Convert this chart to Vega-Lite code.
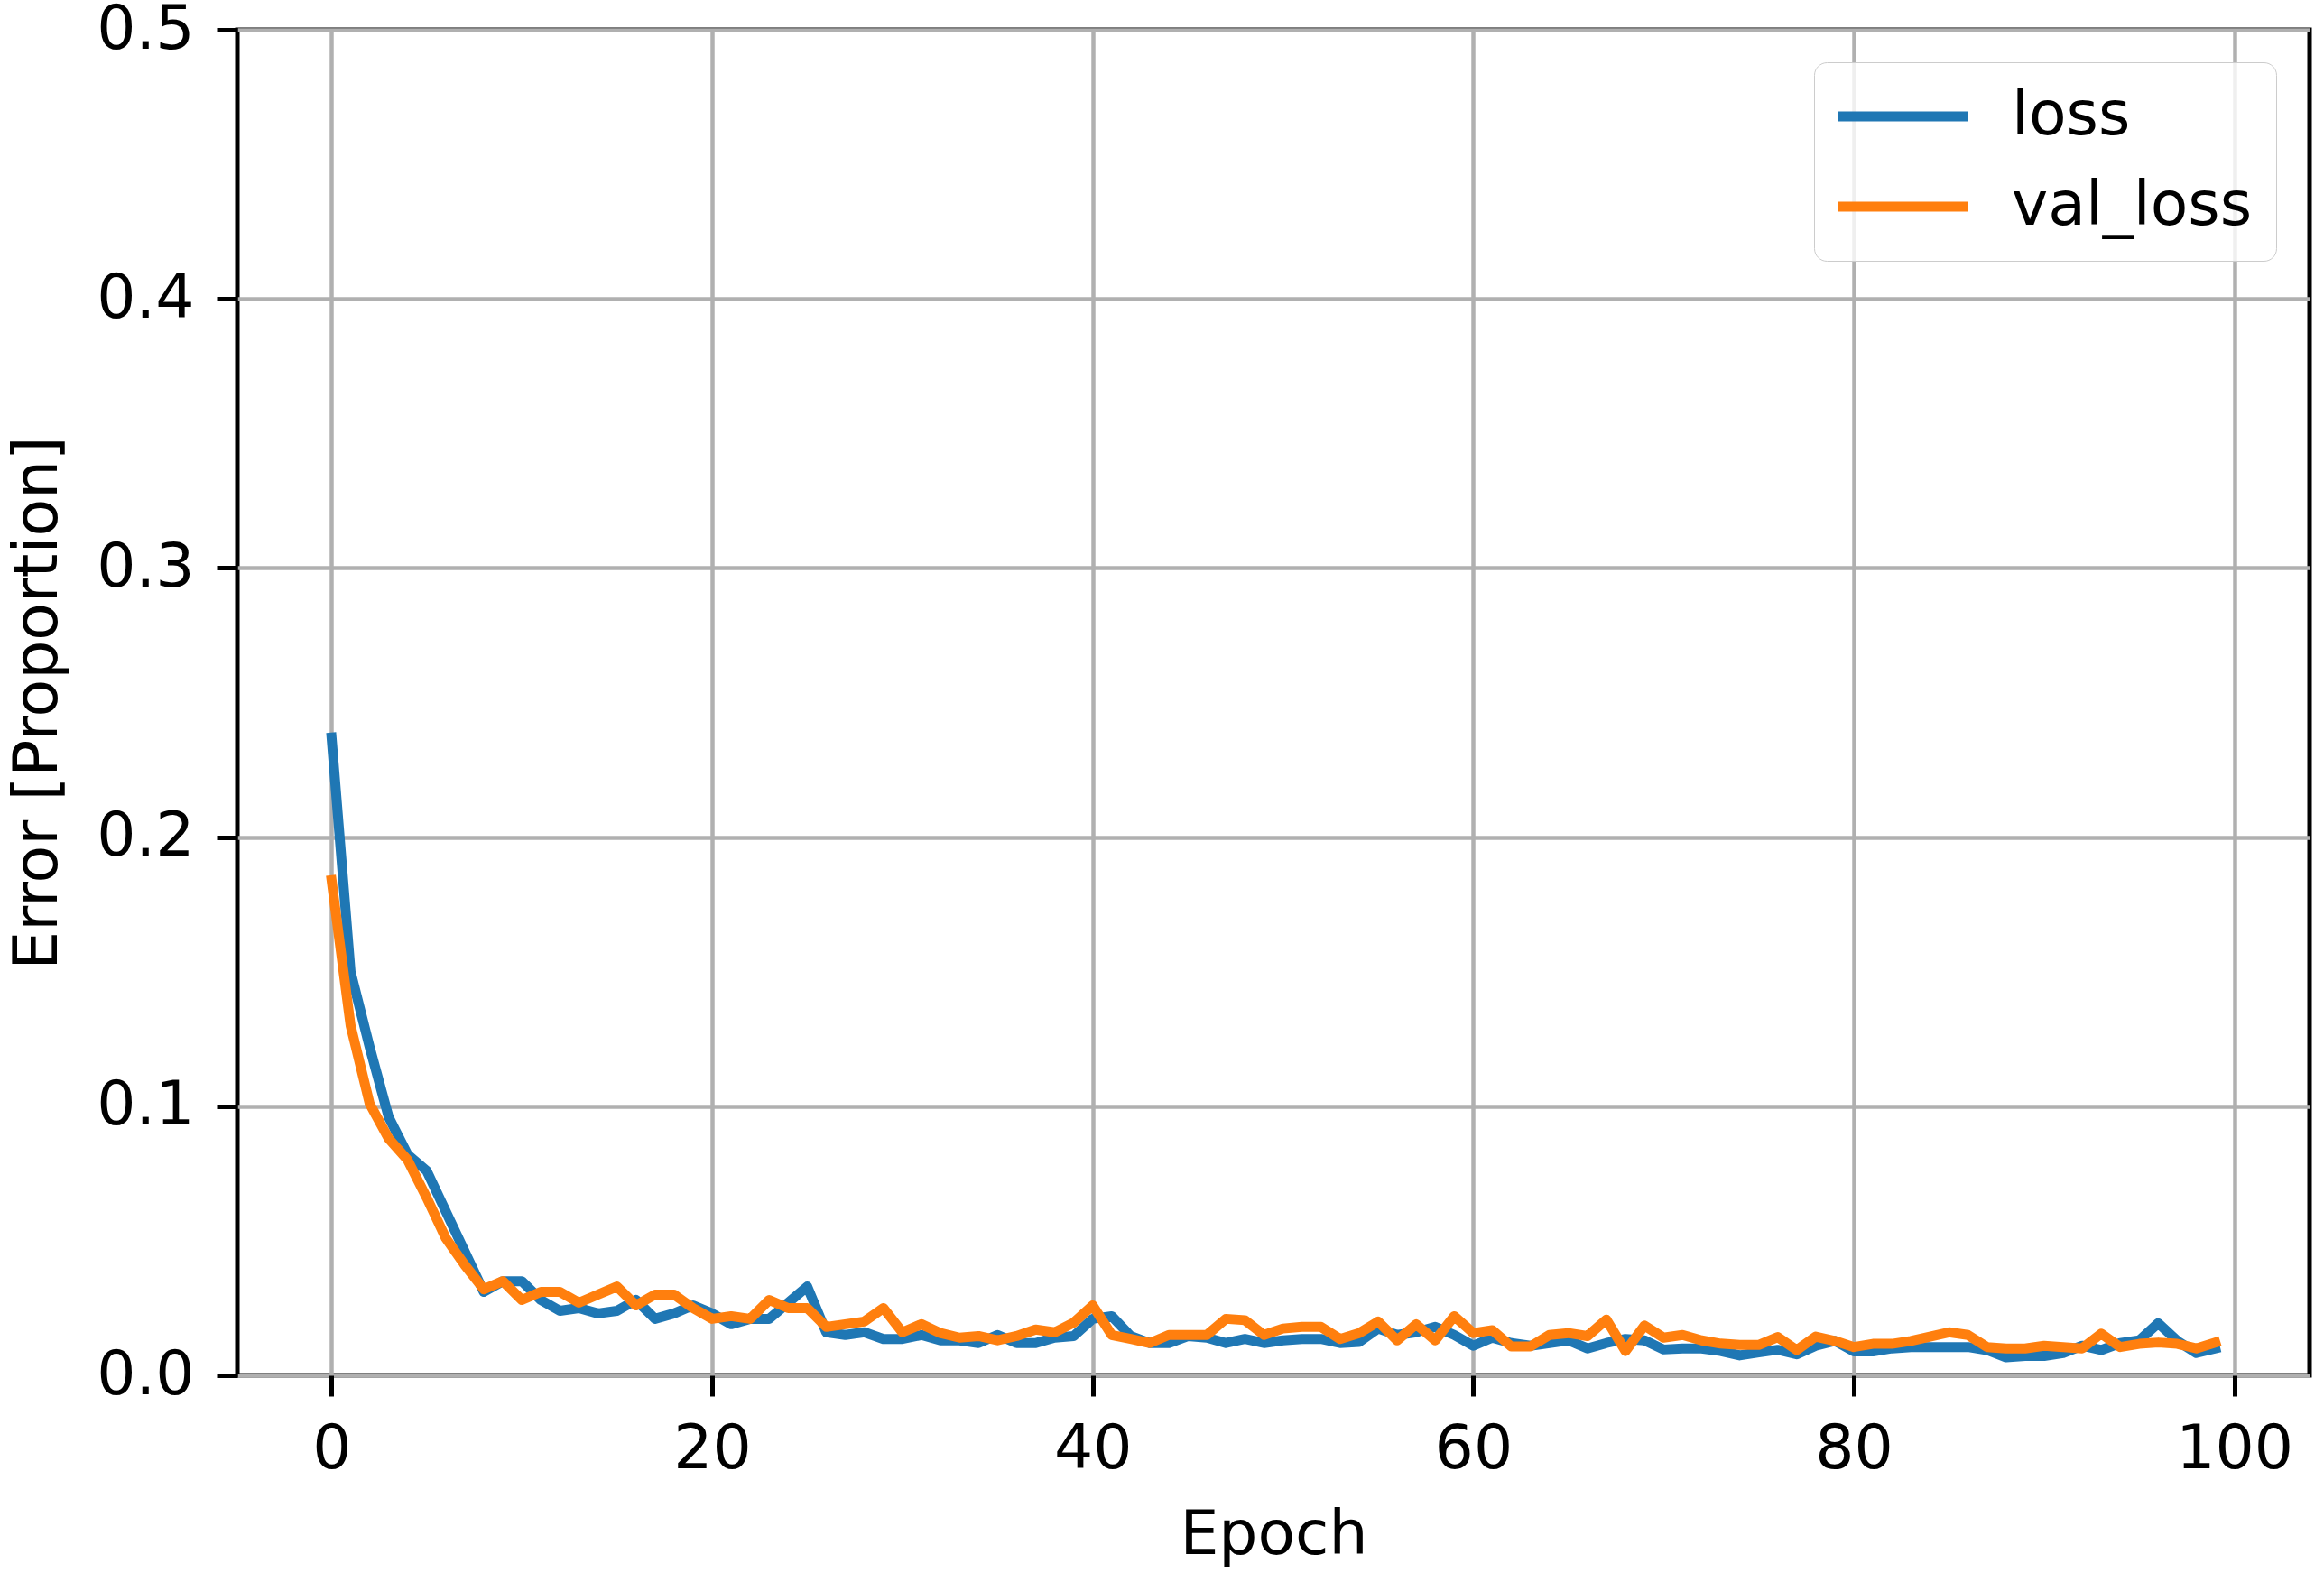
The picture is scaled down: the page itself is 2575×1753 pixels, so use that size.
{
  "$schema": "https://vega.github.io/schema/vega-lite/v6.json",
  "width": 2296,
  "height": 1491,
  "autosize": {"type": "none"},
  "padding": {"left": 263, "top": 33, "right": 16, "bottom": 229},
  "background": "white",
  "config": {
    "view": {"stroke": "black", "strokeWidth": 5},
    "font": "DejaVu Sans",
    "axis": {
      "domain": false,
      "tickColor": "black",
      "tickWidth": 5,
      "tickSize": 23,
      "labelFontSize": 68,
      "labelColor": "black",
      "labelFont": "DejaVu Sans",
      "gridColor": "#b0b0b0",
      "gridWidth": 4.5,
      "gridOpacity": 1,
      "titleFontSize": 68,
      "titleFontWeight": "normal",
      "titleColor": "black",
      "titleFont": "DejaVu Sans"
    }
  },
  "data": {
    "values": [
      {"epoch": 0, "loss": 0.237, "val_loss": 0.184},
      {"epoch": 1, "loss": 0.150, "val_loss": 0.130},
      {"epoch": 2, "loss": 0.122, "val_loss": 0.101},
      {"epoch": 3, "loss": 0.096, "val_loss": 0.088},
      {"epoch": 4, "loss": 0.082, "val_loss": 0.080},
      {"epoch": 5, "loss": 0.076, "val_loss": 0.066},
      {"epoch": 6, "loss": 0.061, "val_loss": 0.051},
      {"epoch": 7, "loss": 0.046, "val_loss": 0.041},
      {"epoch": 8, "loss": 0.031, "val_loss": 0.032},
      {"epoch": 9, "loss": 0.035, "val_loss": 0.035},
      {"epoch": 10, "loss": 0.035, "val_loss": 0.028},
      {"epoch": 11, "loss": 0.028, "val_loss": 0.031},
      {"epoch": 12, "loss": 0.024, "val_loss": 0.031},
      {"epoch": 13, "loss": 0.025, "val_loss": 0.027},
      {"epoch": 14, "loss": 0.023, "val_loss": 0.030},
      {"epoch": 15, "loss": 0.024, "val_loss": 0.033},
      {"epoch": 16, "loss": 0.028, "val_loss": 0.026},
      {"epoch": 17, "loss": 0.021, "val_loss": 0.030},
      {"epoch": 18, "loss": 0.023, "val_loss": 0.030},
      {"epoch": 19, "loss": 0.026, "val_loss": 0.025},
      {"epoch": 20, "loss": 0.023, "val_loss": 0.021},
      {"epoch": 21, "loss": 0.019, "val_loss": 0.022},
      {"epoch": 22, "loss": 0.021, "val_loss": 0.021},
      {"epoch": 23, "loss": 0.021, "val_loss": 0.028},
      {"epoch": 24, "loss": 0.027, "val_loss": 0.025},
      {"epoch": 25, "loss": 0.033, "val_loss": 0.025},
      {"epoch": 26, "loss": 0.016, "val_loss": 0.018},
      {"epoch": 27, "loss": 0.015, "val_loss": 0.019},
      {"epoch": 28, "loss": 0.016, "val_loss": 0.020},
      {"epoch": 29, "loss": 0.0135, "val_loss": 0.025},
      {"epoch": 30, "loss": 0.0135, "val_loss": 0.016},
      {"epoch": 31, "loss": 0.015, "val_loss": 0.019},
      {"epoch": 32, "loss": 0.013, "val_loss": 0.0157},
      {"epoch": 33, "loss": 0.013, "val_loss": 0.014},
      {"epoch": 34, "loss": 0.012, "val_loss": 0.0146},
      {"epoch": 35, "loss": 0.015, "val_loss": 0.013},
      {"epoch": 36, "loss": 0.012, "val_loss": 0.0146},
      {"epoch": 37, "loss": 0.012, "val_loss": 0.017},
      {"epoch": 38, "loss": 0.014, "val_loss": 0.016},
      {"epoch": 39, "loss": 0.0146, "val_loss": 0.0196},
      {"epoch": 40, "loss": 0.021, "val_loss": 0.026},
      {"epoch": 41, "loss": 0.022, "val_loss": 0.015},
      {"epoch": 42, "loss": 0.0146, "val_loss": 0.0135},
      {"epoch": 43, "loss": 0.012, "val_loss": 0.012},
      {"epoch": 44, "loss": 0.012, "val_loss": 0.015},
      {"epoch": 45, "loss": 0.0146, "val_loss": 0.015},
      {"epoch": 46, "loss": 0.014, "val_loss": 0.015},
      {"epoch": 47, "loss": 0.012, "val_loss": 0.021},
      {"epoch": 48, "loss": 0.0135, "val_loss": 0.0205},
      {"epoch": 49, "loss": 0.012, "val_loss": 0.015},
      {"epoch": 50, "loss": 0.013, "val_loss": 0.0174},
      {"epoch": 51, "loss": 0.0135, "val_loss": 0.018},
      {"epoch": 52, "loss": 0.0135, "val_loss": 0.018},
      {"epoch": 53, "loss": 0.012, "val_loss": 0.0135},
      {"epoch": 54, "loss": 0.0124, "val_loss": 0.0157},
      {"epoch": 55, "loss": 0.0174, "val_loss": 0.020},
      {"epoch": 56, "loss": 0.015, "val_loss": 0.013},
      {"epoch": 57, "loss": 0.016, "val_loss": 0.019},
      {"epoch": 58, "loss": 0.018, "val_loss": 0.013},
      {"epoch": 59, "loss": 0.015, "val_loss": 0.022},
      {"epoch": 60, "loss": 0.011, "val_loss": 0.0157},
      {"epoch": 61, "loss": 0.014, "val_loss": 0.0168},
      {"epoch": 62, "loss": 0.012, "val_loss": 0.0107},
      {"epoch": 63, "loss": 0.011, "val_loss": 0.0107},
      {"epoch": 64, "loss": 0.012, "val_loss": 0.015},
      {"epoch": 65, "loss": 0.013, "val_loss": 0.0157},
      {"epoch": 66, "loss": 0.010, "val_loss": 0.0146},
      {"epoch": 67, "loss": 0.012, "val_loss": 0.0207},
      {"epoch": 68, "loss": 0.0135, "val_loss": 0.009},
      {"epoch": 69, "loss": 0.013, "val_loss": 0.0185},
      {"epoch": 70, "loss": 0.0096, "val_loss": 0.014},
      {"epoch": 71, "loss": 0.010, "val_loss": 0.015},
      {"epoch": 72, "loss": 0.010, "val_loss": 0.013},
      {"epoch": 73, "loss": 0.009, "val_loss": 0.0118},
      {"epoch": 74, "loss": 0.0074, "val_loss": 0.0113},
      {"epoch": 75, "loss": 0.0085, "val_loss": 0.0113},
      {"epoch": 76, "loss": 0.0095, "val_loss": 0.0142},
      {"epoch": 77, "loss": 0.0078, "val_loss": 0.0094},
      {"epoch": 78, "loss": 0.011, "val_loss": 0.0144},
      {"epoch": 79, "loss": 0.0128, "val_loss": 0.0128},
      {"epoch": 80, "loss": 0.0089, "val_loss": 0.0105},
      {"epoch": 81, "loss": 0.0089, "val_loss": 0.0117},
      {"epoch": 82, "loss": 0.010, "val_loss": 0.0117},
      {"epoch": 83, "loss": 0.0105, "val_loss": 0.0128},
      {"epoch": 84, "loss": 0.0105, "val_loss": 0.0144},
      {"epoch": 85, "loss": 0.0105, "val_loss": 0.016},
      {"epoch": 86, "loss": 0.0105, "val_loss": 0.015},
      {"epoch": 87, "loss": 0.0094, "val_loss": 0.0105},
      {"epoch": 88, "loss": 0.0067, "val_loss": 0.010},
      {"epoch": 89, "loss": 0.0072, "val_loss": 0.010},
      {"epoch": 90, "loss": 0.0072, "val_loss": 0.011},
      {"epoch": 91, "loss": 0.0083, "val_loss": 0.0105},
      {"epoch": 92, "loss": 0.011, "val_loss": 0.010},
      {"epoch": 93, "loss": 0.0094, "val_loss": 0.0155},
      {"epoch": 94, "loss": 0.012, "val_loss": 0.0105},
      {"epoch": 95, "loss": 0.013, "val_loss": 0.0117},
      {"epoch": 96, "loss": 0.0194, "val_loss": 0.0122},
      {"epoch": 97, "loss": 0.0128, "val_loss": 0.0117},
      {"epoch": 98, "loss": 0.0083, "val_loss": 0.010},
      {"epoch": 99, "loss": 0.010, "val_loss": 0.0122}
    ]
  },
  "transform": [{"fold": ["loss", "val_loss"], "as": ["series", "value"]}],
  "mark": {"type": "line", "strokeWidth": 11, "strokeJoin": "round", "strokeCap": "square", "clip": true},
  "encoding": {
    "x": {
      "field": "epoch",
      "type": "quantitative",
      "scale": {"domain": [-4.95, 103.95], "nice": false, "zero": false},
      "axis": {"values": [0, 20, 40, 60, 80, 100], "title": "Epoch", "labelPadding": 25, "titlePadding": 27, "labelFlush": false}
    },
    "y": {
      "field": "value",
      "type": "quantitative",
      "scale": {"domain": [0, 0.5], "nice": false},
      "axis": {"values": [0, 0.1, 0.2, 0.3, 0.4, 0.5], "format": ".1f", "title": "Error [Proportion]", "labelPadding": 25, "titlePadding": 30}
    },
    "color": {
      "field": "series",
      "type": "nominal",
      "scale": {"domain": ["loss", "val_loss"], "range": ["#1f77b4", "#ff7f0e"]},
      "legend": {
        "orient": "none",
        "legendX": 1747,
        "legendY": 36,
        "title": null,
        "symbolType": "M-3,0H3",
        "symbolSize": 2304,
        "symbolStrokeWidth": 11,
        "symbolOffset": 38,
        "labelOffset": 87,
        "labelFontSize": 68,
        "labelLimit": 0,
        "labelColor": "black",
        "labelFont": "DejaVu Sans",
        "padding": 26,
        "rowPadding": 32,
        "fillColor": "rgba(255,255,255,0.8)",
        "strokeColor": "#cccccc",
        "cornerRadius": 14
      }
    }
  }
}
